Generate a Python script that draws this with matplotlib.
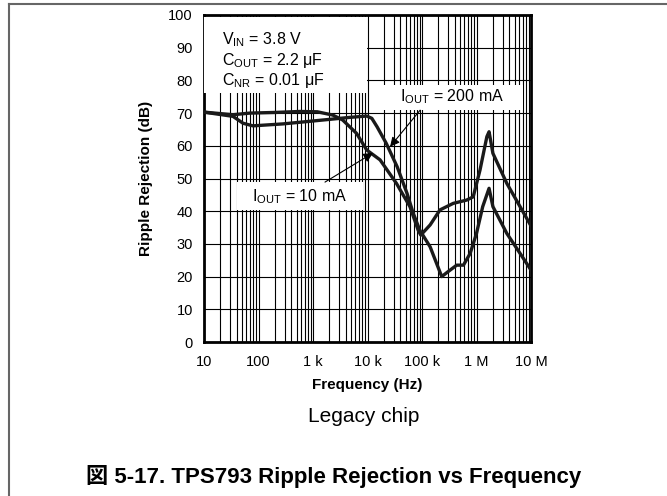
import matplotlib
matplotlib.use("Agg")
import matplotlib.pyplot as plt
from matplotlib.patches import Rectangle
from matplotlib.lines import Line2D

plt.rcParams['font.family'] = ['Liberation Sans', 'Noto Sans CJK JP', 'DejaVu Sans']
plt.rcParams['mathtext.fontset'] = 'custom'
plt.rcParams['mathtext.rm'] = 'Liberation Sans'
plt.rcParams['mathtext.it'] = 'Liberation Sans'

# ---- data ----
freq_200mA = [10, 34, 52, 79, 282, 1170, 4800, 9700, 12000, 15000, 22000, 35000,
              53000, 69000, 91000, 141000, 230000, 300000, 433000, 576000, 765000,
              1000000, 1300000, 1700000, 2000000, 3600000, 6300000, 10000000]
rr_200mA = [70.3, 69.0, 66.9, 66.1, 66.7, 67.7, 68.7, 69.1, 68.4, 65.8, 60.8, 53.6,
            45.5, 39.4, 34.2, 29.1, 20.0, 21.5, 23.5, 23.5, 27.1,
            33.2, 41.4, 47.0, 41.4, 33.2, 27.1, 22.0]

freq_10mA = [10, 34, 69, 200, 575, 1200, 2300, 3500, 6300, 9700, 17000, 34000,
             60000, 85000, 95000, 141000, 214000, 375000, 660000, 870000, 1160000,
             1550000, 1700000, 2000000, 3600000, 6300000, 10000000]
rr_10mA = [70.3, 69.5, 70.0, 70.2, 70.5, 70.4, 69.4, 67.9, 63.8, 58.7, 55.7, 48.5,
           41.4, 34.2, 32.7, 35.8, 40.4, 42.4, 43.4, 44.4, 52.6,
           62.8, 64.3, 57.7, 48.5, 41.4, 35.5]

x_ticks = [10, 100, 1e3, 1e4, 1e5, 1e6, 1e7]
x_tick_labels = ['10', '100', '1 k', '10 k', '100 k', '1 M', '10 M']
y_ticks = list(range(0, 101, 10))

W, H = 667, 496
fig = plt.figure(figsize=(W / 100, H / 100), dpi=100)
ax = fig.add_axes([204 / W, (H - 342) / H, 327 / W, 327 / H])

ax.set_xscale('log')
ax.set_xlim(10, 1e7)
ax.set_ylim(0, 100)
ax.set_xticks(x_ticks)
ax.set_xticklabels(x_tick_labels)
ax.set_yticks(y_ticks)
ax.tick_params(which='both', length=0, labelsize=10.5, colors='black')
ax.tick_params(axis='x', pad=9)
ax.tick_params(axis='y', pad=8)

ax.xaxis.grid(True, which='both', color='black', lw=0.8)
ax.yaxis.grid(True, which='major', color='black', lw=0.8)
ax.set_axisbelow(True)
for s in ax.spines.values():
    s.set_linewidth(2)

ax.plot(freq_200mA, rr_200mA, color='#1a1a1a', lw=2.4, zorder=4, solid_joinstyle='round')
ax.plot(freq_10mA, rr_10mA, color='#1a1a1a', lw=2.4, zorder=4, solid_joinstyle='round')

ax.set_xlabel('Frequency (Hz)', fontsize=11, fontweight='bold', labelpad=7)
ax.set_ylabel('Ripple Rejection (dB)', fontsize=11, fontweight='bold', labelpad=11)

# annotation boxes
def box(x0, y0, x1, y1):
    ax.add_patch(Rectangle((x0, y0), x1 - x0, y1 - y0, transform=ax.transAxes,
                           facecolor='white', edgecolor='none', zorder=3))

box(0.0, 0.761, 0.498, 0.995)
box(0.544, 0.709, 0.976, 0.786)
box(0.101, 0.404, 0.486, 0.489)

cond_lines = [r'V$_{\mathrm{IN}}$ = 3.8 V', r'C$_{\mathrm{OUT}}$ = 2.2 μF',
              r'C$_{\mathrm{NR}}$ = 0.01 μF']
for t, yy in zip(cond_lines, [0.924, 0.862, 0.801]):
    ax.text(0.055, yy, t, transform=ax.transAxes, fontsize=11.5, va='center',
            ha='left', zorder=5)

ax.text(0.599, 0.749, r'I$_{\mathrm{OUT}}$ = 200 mA', transform=ax.transAxes,
        fontsize=11.5, va='center', ha='left', zorder=5)
ax.text(0.147, 0.446, r'I$_{\mathrm{OUT}}$ = 10 mA', transform=ax.transAxes,
        fontsize=11.5, va='center', ha='left', zorder=5)

arrow = dict(arrowstyle='-|>', color='black', lw=0.8, mutation_scale=14,
             shrinkA=0, shrinkB=0)
ax.annotate('', xy=(25900, 59.7), xycoords='data', xytext=(0.661, 0.709),
            textcoords='axes fraction', arrowprops=arrow, zorder=6)
ax.annotate('', xy=(12600, 57.8), xycoords='data', xytext=(0.370, 0.489),
            textcoords='axes fraction', arrowprops=arrow, zorder=6)

fig.text(364 / W, 1 - 417 / H, 'Legacy chip', fontsize=15, ha='center', va='center')
fig.text(0.5, 1 - 476 / H, '図 5-17. TPS793 Ripple Rejection vs Frequency',
         fontsize=16, fontweight='bold', ha='center', va='center')

# figure frame lines
fig.add_artist(Line2D([9 / W, 1], [1 - 4 / H, 1 - 4 / H], transform=fig.transFigure,
                      color='#666666', lw=1.5))
fig.add_artist(Line2D([9 / W, 9 / W], [0, 1 - 4 / H], transform=fig.transFigure,
                      color='#666666', lw=1.5))

fig.savefig('out.png', dpi=100)
